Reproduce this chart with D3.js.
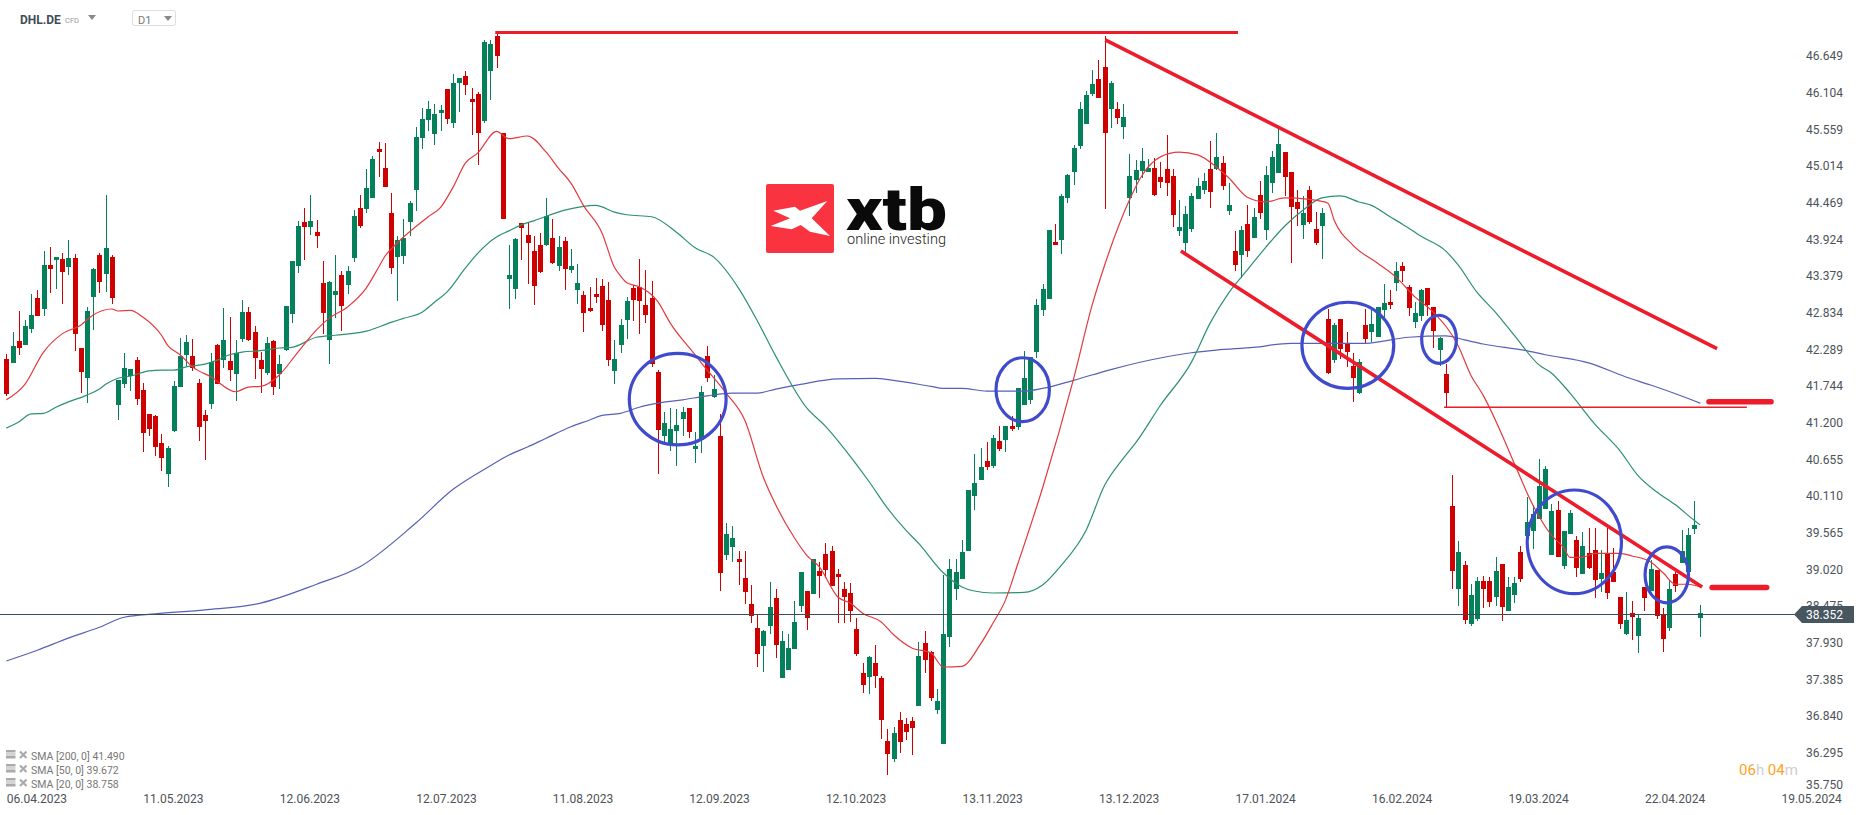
<!DOCTYPE html>
<html><head><meta charset="utf-8">
<script src="https://cdn.jsdelivr.net/npm/d3@7/dist/d3.min.js"></script>
<style>html,body{margin:0;padding:0;background:#fff}svg{display:block;font-family:Roboto,sans-serif}</style>
</head><body><svg id="c" width="1866" height="815"></svg>
<script>
const directions=("RGRGGRGRGR"+"GRRGGRGRGG"+"GRRRRRGGGG"+"RRRGRGRGGR"+"RRGRGGGGRG"+"RRGGRGGRGG"+"RRRGGGGGGG"+"GRGGRRRGGR"+"RGGRRRRGRG"+"RGGRRRRRGG"+"GRRRRRGGGG"+"RGGRGRGGRR"+"RRGGRGGGGR"+"GRRRRRRRRG"+"RRRGRRRGRR"+"GGGGGGGGRG"+"RGRGGGGGGR"+"GGGGGGRRGR"+"GGGGGRRRRG"+"GGGGRGRGRG"+"RGRGGGRRRG"+"RRGRGRRRGR"+"GGGRGRRGGR"+"RGRRGRGGRR"+"GRGGRGGGGG"+"RGGRGRRGRR"+"RGRGRGRRGR"+"GGGG").split("");
const bodyTop=[42.14,42.34,42.41,42.64,42.80,43.05,43.54,43.54,43.66,43.63,43.65,43.65,42.31,42.86,43.48,43.69,43.80,43.66,41.83,42.01,
42.00,42.13,41.68,41.33,41.30,40.90,40.82,41.74,42.19,42.40,42.19,41.79,41.31,42.10,42.35,42.43,42.12,42.24,42.85,42.85,
42.55,42.13,42.38,42.41,42.07,42.93,43.60,44.12,44.18,44.20,44.03,43.28,43.29,43.16,43.39,43.45,44.27,44.39,44.69,45.12,
45.27,44.98,44.32,43.91,43.94,44.46,45.45,45.71,45.86,45.79,45.85,46.16,46.25,46.32,46.35,46.01,46.08,46.86,46.83,46.95,
45.50,43.39,43.93,44.17,43.99,43.75,43.84,44.27,43.94,43.81,43.90,43.53,43.28,43.10,42.90,43.11,43.23,43.02,42.14,42.65,
43.01,43.20,43.22,42.95,43.05,41.95,41.20,41.11,41.17,41.36,41.42,40.85,41.66,42.19,41.70,41.00,39.55,39.49,39.17,38.89,
38.51,38.15,38.10,38.46,38.60,37.96,37.85,38.24,38.98,38.70,39.17,39.00,39.25,39.29,38.95,38.73,38.67,38.13,37.48,37.72,
37.63,37.41,36.47,36.59,36.78,36.72,36.77,37.73,37.93,37.79,37.06,38.06,39.03,38.98,39.28,40.20,40.30,40.54,40.63,40.97,
40.93,41.15,41.15,41.72,41.86,42.18,42.95,43.19,44.06,43.89,44.57,44.88,45.28,45.86,46.07,46.23,46.31,46.49,46.25,45.86,
45.74,44.87,44.95,45.09,44.98,44.98,44.85,44.97,44.87,44.11,44.30,44.57,44.72,44.79,44.97,45.15,45.06,44.43,43.75,44.06,
44.15,44.26,44.58,44.88,45.15,45.34,45.22,44.92,44.48,44.32,44.66,44.08,44.32,42.74,42.65,42.74,42.37,42.04,42.10,42.65,
42.67,42.92,42.98,42.99,43.45,43.53,43.22,42.83,43.17,43.20,42.92,42.46,41.92,39.96,39.28,39.09,38.64,38.85,38.85,38.85,
39.00,39.10,38.76,38.82,39.28,39.72,39.84,40.26,40.51,39.89,39.90,39.59,39.86,39.46,39.37,39.26,39.31,38.97,39.26,38.98,
38.61,38.27,38.37,38.30,38.76,39.03,39.01,38.34,38.73,38.95,39.29,39.53,39.68,38.37];
const bodyBottom=[41.63,42.09,42.31,42.35,42.59,42.78,42.89,43.48,43.62,43.44,43.51,42.52,41.95,41.86,43.07,43.29,43.41,43.05,41.46,41.77,
41.89,41.55,41.05,41.11,40.84,40.67,40.44,41.08,41.73,42.21,42.01,41.14,41.22,41.48,41.77,42.13,41.98,41.92,42.44,42.43,
42.16,42.00,41.94,41.73,41.92,42.28,42.81,43.53,44.11,44.11,43.97,42.83,42.43,43.10,42.93,43.25,43.65,44.12,44.37,44.54,
45.22,44.70,43.50,43.66,43.68,44.18,44.66,45.43,45.70,45.49,45.80,45.71,45.65,46.25,46.22,45.97,45.50,45.68,46.43,46.65,
44.23,43.33,43.19,44.09,43.87,43.23,43.44,43.84,43.57,43.53,43.48,43.47,43.17,42.83,42.86,43.07,42.65,42.13,41.97,42.35,
42.72,43.02,43.01,42.80,42.07,41.09,41.00,40.90,41.08,41.26,41.06,40.81,40.94,41.86,41.58,38.97,39.23,39.35,39.13,38.68,
38.33,37.76,37.88,38.18,37.90,37.41,37.52,37.84,38.48,38.30,38.65,38.92,39.01,38.77,38.91,38.61,38.40,37.76,37.30,37.42,
37.44,36.78,36.28,36.20,36.46,36.60,36.66,36.99,37.67,37.11,36.93,36.42,38.02,38.73,38.88,39.29,40.11,40.35,40.54,40.56,
40.81,40.94,41.11,41.14,41.46,41.54,42.25,42.87,43.04,43.84,43.91,44.54,44.92,45.31,45.64,46.08,46.02,45.50,45.86,45.73,
45.59,44.54,44.81,44.94,44.92,44.58,44.78,44.76,44.29,44.05,43.87,44.08,44.52,44.66,44.63,44.97,44.72,44.35,43.54,43.69,
43.75,43.94,44.32,44.06,44.76,44.91,44.85,44.40,44.37,44.14,44.18,43.87,44.12,41.94,42.13,42.30,42.25,41.86,41.64,42.44,
42.55,42.47,42.87,42.95,43.28,43.45,42.90,42.70,42.78,42.95,42.56,42.28,41.64,39.00,38.73,38.27,38.21,38.28,38.73,38.54,
38.61,38.46,38.40,38.64,38.88,39.52,39.59,39.77,39.92,39.23,39.20,39.07,39.55,39.04,38.95,39.04,38.86,38.88,38.67,38.83,
38.21,38.06,38.31,38.03,38.60,38.70,38.33,37.99,38.15,38.77,39.11,38.98,39.62,38.30];
const highs=[42.22,42.55,42.86,42.72,43.11,43.17,43.75,43.81,43.66,43.72,43.91,43.71,42.31,42.92,43.50,43.72,44.58,43.69,41.83,42.24,
42.00,42.18,41.79,41.33,41.31,41.03,40.85,41.82,42.46,42.50,42.44,41.85,41.39,42.24,42.37,42.90,42.77,42.43,43.02,42.92,
42.64,42.25,42.47,42.43,42.21,42.93,43.60,44.20,44.39,44.58,44.21,43.60,43.31,43.69,43.45,43.53,44.36,44.58,44.97,45.16,
45.37,45.36,44.61,43.97,44.23,44.49,45.59,45.88,45.98,45.94,45.92,46.16,46.38,46.32,46.43,46.17,46.11,46.89,46.89,47.00,
45.50,43.84,43.94,44.17,44.17,43.97,44.02,44.54,44.23,43.97,43.96,43.78,43.56,43.16,43.22,43.35,43.33,43.29,42.43,42.74,
43.07,43.25,43.63,43.47,43.30,41.98,41.36,41.42,41.40,41.43,41.42,41.06,41.74,42.34,41.91,41.33,39.71,39.66,39.29,39.29,
38.79,38.34,38.12,38.83,38.73,38.11,38.06,38.55,38.98,38.70,39.17,39.13,39.41,39.37,39.03,38.83,38.82,38.30,37.63,37.73,
37.90,37.44,36.65,36.68,36.90,36.81,36.83,37.94,38.11,37.81,37.24,38.94,39.17,39.17,39.46,40.20,40.73,40.82,40.91,41.02,
41.15,41.15,41.30,41.72,42.27,42.18,43.04,43.26,44.06,44.15,44.60,44.90,45.33,45.97,46.13,46.44,46.59,46.95,46.28,45.97,
45.94,45.19,45.10,45.28,45.12,45.13,45.07,45.47,44.97,44.51,44.42,44.61,44.84,44.91,45.39,45.50,45.16,44.76,44.05,44.12,
44.43,44.39,44.79,45.01,45.24,45.58,45.22,44.92,44.66,44.57,44.72,44.33,44.39,42.89,42.68,42.74,42.55,42.24,42.15,42.89,
42.87,42.92,43.26,43.17,43.59,43.59,43.25,42.99,43.19,43.20,42.92,42.47,42.07,40.42,39.44,39.15,38.80,38.91,38.92,38.91,
39.20,39.10,38.91,38.91,39.37,40.09,39.98,40.66,40.56,39.99,40.03,39.59,39.90,39.52,39.58,39.63,39.63,39.31,39.63,39.34,
38.61,38.68,38.55,38.34,38.76,39.16,39.01,38.45,38.86,38.98,39.60,39.63,40.03,38.49];
const lows=[41.60,42.09,42.21,42.35,42.53,42.78,42.78,43.13,43.19,42.96,43.39,42.27,41.64,41.49,42.58,43.13,43.14,42.96,41.24,41.72,
41.67,41.46,40.76,41.00,40.70,40.48,40.24,41.06,41.73,42.04,41.97,40.93,40.64,41.40,41.77,42.01,41.82,41.52,42.40,42.41,
41.85,41.64,41.91,41.61,41.70,42.27,42.68,43.42,43.62,43.99,43.80,42.52,42.07,42.76,42.56,43.11,43.59,44.09,44.32,44.54,
44.85,44.70,43.41,43.01,43.56,43.97,44.35,45.27,45.53,45.33,45.53,45.64,45.58,45.82,46.07,45.48,45.03,45.65,46.00,46.47,
44.23,42.89,43.04,43.62,43.26,42.95,43.42,43.83,43.56,43.45,43.17,43.42,42.96,42.55,42.85,42.98,42.56,42.04,41.77,42.24,
42.44,42.71,42.52,42.68,42.03,40.44,40.91,40.78,40.56,41.00,40.97,40.60,40.75,41.80,41.57,38.70,39.16,39.13,38.79,38.51,
38.22,37.57,37.50,38.06,37.70,37.41,37.52,37.84,38.39,38.12,38.65,38.60,38.89,38.77,38.22,38.22,38.24,37.73,37.18,37.17,
37.26,36.50,35.97,36.16,36.29,36.48,36.26,36.99,37.48,37.06,36.87,36.42,37.87,38.56,38.88,39.29,39.90,40.35,40.50,40.53,
40.78,40.76,41.08,41.09,41.46,41.48,42.16,42.78,43.04,43.84,43.71,44.46,44.73,45.27,45.64,46.05,46.02,44.37,45.58,45.64,
45.42,44.27,44.61,44.84,44.92,44.57,44.69,44.57,44.11,43.97,43.74,44.03,44.52,44.60,44.39,44.95,44.66,44.29,43.45,43.35,
43.66,43.94,44.23,43.91,44.61,44.91,44.57,43.57,44.12,43.93,44.15,43.84,43.63,41.92,42.09,42.15,42.03,41.51,41.63,42.38,
42.40,42.47,42.77,42.89,43.16,43.29,42.78,42.61,42.71,42.78,42.31,42.04,41.43,38.73,38.48,38.21,38.18,38.25,38.45,38.46,
38.48,38.25,38.40,38.52,38.83,39.52,39.32,39.77,39.92,39.23,39.20,39.03,39.55,38.91,38.95,39.03,38.60,38.68,38.58,38.83,
38.13,38.04,37.97,37.78,38.40,38.70,38.28,37.79,38.10,38.68,39.11,38.98,39.55,38.02];

const sma20Bars=[0,3,6,9,12,14,17,18,20,22,25,26,28,30,33,37,39,41,44,47,50,52,55,58,60,61,63,68,70,72,74,76,79,81,84,87,89,91,93,96,98,99,100,102,105,107,111,112,116,119,122,124,127,129,131,134,136,138,141,143,146,149,151,154,157,159,161,163,167,172,175,177,181,183,186,189,192,195,197,200,203,206,210,212,213,214,217,221,224,227,230,234,236,238,241,243,246,247,249,251,252,254,256,260,262,265,267,269,271,273];
const sma20Values=[41.54,41.77,42.25,42.52,42.65,42.80,42.89,42.86,42.87,42.77,42.50,42.35,42.21,42.03,41.88,41.66,41.73,41.74,41.91,42.25,42.58,42.75,42.92,43.20,43.51,43.67,43.87,44.26,44.40,44.70,45.06,45.21,45.53,45.42,45.46,45.22,44.98,44.76,44.43,44.02,43.51,43.38,43.28,43.22,43.00,42.68,42.21,42.09,41.64,41.24,40.39,39.98,39.49,39.23,39.06,38.61,38.52,38.37,38.24,38.05,37.85,37.78,37.57,37.58,37.91,38.22,38.56,39.10,40.23,41.85,42.95,43.54,44.51,44.87,45.15,45.22,45.18,45.00,44.84,44.55,44.48,44.54,44.52,44.49,44.46,44.21,43.84,43.57,43.36,43.07,42.84,42.34,41.91,41.61,41.03,40.60,39.98,39.81,39.53,39.34,39.20,39.20,39.26,39.26,39.22,39.13,38.97,38.80,38.80,38.76];
const sma50Bars=[0,2,4,6,8,10,13,15,16,18,20,23,25,27,29,32,34,36,38,41,44,46,50,53,58,62,64,67,69,71,74,76,79,81,83,85,90,95,98,100,104,108,111,114,118,121,124,129,132,135,139,142,145,147,151,154,156,159,164,167,170,174,177,180,182,186,191,194,197,200,203,206,209,212,215,218,220,223,225,228,232,234,237,240,243,247,249,252,256,260,263,266,269,272,273];
const sma50Values=[41.12,41.21,41.33,41.34,41.43,41.51,41.61,41.70,41.77,41.86,41.89,41.97,41.98,41.98,42.03,42.07,42.13,42.21,42.25,42.27,42.31,42.32,42.47,42.50,42.56,42.69,42.75,42.84,42.99,43.14,43.50,43.72,43.96,44.05,44.14,44.20,44.36,44.43,44.33,44.29,44.26,44.03,43.80,43.66,43.20,42.72,42.19,41.42,41.15,40.82,40.33,39.93,39.60,39.41,38.97,38.76,38.70,38.67,38.68,38.79,39.08,39.60,40.27,40.67,40.90,41.46,42.10,42.68,43.13,43.47,43.81,44.12,44.36,44.54,44.57,44.48,44.43,44.26,44.15,43.97,43.75,43.54,43.14,42.84,42.50,42.06,41.94,41.64,41.18,40.79,40.41,40.17,39.98,39.75,39.68];
const sma200Bars=[0,5,10,15,19,24,32,41,50,57,66,72,78,81,84,87,91,94,96,99,102,105,109,113,117,121,124,128,134,140,143,149,151,154,158,164,167,172,178,187,191,195,201,207,216,219,226,232,235,238,245,248,255,261,265,269,273];
const sma200Values=[37.66,37.82,38.00,38.16,38.31,38.36,38.42,38.52,38.80,39.06,39.71,40.21,40.56,40.72,40.84,40.97,41.14,41.24,41.31,41.34,41.43,41.49,41.54,41.60,41.64,41.64,41.70,41.77,41.85,41.86,41.83,41.74,41.71,41.71,41.67,41.67,41.71,41.83,41.99,42.18,42.24,42.28,42.32,42.38,42.38,42.38,42.47,42.49,42.43,42.37,42.27,42.21,42.09,41.88,41.76,41.63,41.49];

const priceTicks=[46.649,46.104,45.559,45.014,44.469,43.924,43.379,42.834,42.289,41.744,41.200,40.655,40.110,39.565,39.020,38.475,37.930,37.385,36.840,36.295,35.750];
const dateTickBars=[0,22,44,66,88,110,132,154,176,198,220,242,264,286];
const dateTickLabels=["06.04.2023","11.05.2023","12.06.2023","12.07.2023","11.08.2023","12.09.2023","12.10.2023","13.11.2023","13.12.2023","17.01.2024","16.02.2024","19.03.2024","22.04.2024","19.05.2024"];
const currentPrice=38.352;
const legendLabels=["SMA [200, 0] 41.490","SMA [50, 0] 39.672","SMA [20, 0] 38.758"];

/* drawn annotations, in bar number / price units */
const trendLines=[[78.8,47.00,198.5,47.00,3],[177.1,46.89,275.7,42.30,3.6],[189.3,43.75,273.3,38.76,3.6],[231.7,41.43,280.5,41.43,1.3],[274.4,41.51,284.4,41.51,5.5],[274.9,38.75,283.7,38.75,5.5]];
const circleBars=[108.2,163.8,216.2,230.9,252.7,267.6];
const circlePrices=[41.55,41.69,42.35,42.44,39.43,38.94];
const circleBarRadius=[7.8,4.3,7.4,2.8,7.6,3.5];
const circlePriceRadius=[0.68,0.475,0.64,0.357,0.77,0.416];

const RED="#cf0000",GREEN="#04815a",ANNO="#ee1c2b",BLUE="#3f4bcc";
const svg=d3.select("#c");
const x=d3.scaleLinear().domain([0,273]).range([6.3,1700.3]);
const y=d3.scaleLinear().domain([35.75,46.649]).range([789.5,56]);
const ry=p=>Math.round(y(p));

/* logo */
const logo=svg.append("g");
logo.append("rect").attr("x",766).attr("y",184).attr("width",68).attr("height",69).attr("rx",2).attr("fill","#f93340");
logo.append("path").attr("fill","#fff").attr("d","M773.3,210.7L795,206.7L800,210.7L827.3,201L811.7,218.3L830,236L810,231.7L800.7,225L791.7,229.3L770.7,226L790,218.3Z");
logo.append("text").attr("x",846).attr("y",230).attr("font-size",60).attr("font-weight",900).attr("fill","#0a0a0a").attr("textLength",101).attr("lengthAdjust","spacingAndGlyphs").text("xtb");
logo.append("text").attr("x",847).attr("y",244).attr("font-size",15.5).attr("font-weight",300).attr("fill","#222").attr("textLength",99).attr("lengthAdjust","spacingAndGlyphs").text("online investing");

/* candles */
const bars=d3.range(directions.length);
const candles=svg.append("g").attr("shape-rendering","crispEdges");
candles.selectAll("rect.w").data(bars).join("rect").attr("class","w")
 .attr("x",i=>Math.round(x(i))).attr("width",1)
 .attr("y",i=>ry(highs[i])).attr("height",i=>Math.max(1,ry(lows[i])-ry(highs[i])))
 .attr("fill",i=>directions[i]==="G"?GREEN:RED);
candles.selectAll("rect.b").data(bars).join("rect").attr("class","b")
 .attr("x",i=>Math.round(x(i))-2).attr("width",5)
 .attr("y",i=>ry(bodyTop[i])).attr("height",i=>Math.max(1,ry(bodyBottom[i])-ry(bodyTop[i])))
 .attr("fill",i=>directions[i]==="G"?GREEN:RED);

/* moving averages */
const lineGen=d3.line().x(d=>x(d[0])).y(d=>y(d[1])).curve(d3.curveMonotoneX);
[[sma200Bars,sma200Values,"#5661b5"],[sma50Bars,sma50Values,"#2b9170"],[sma20Bars,sma20Values,"#e23a3e"]].forEach(([b,v,c])=>{
 svg.append("path").attr("fill","none").attr("stroke",c).attr("stroke-width",1.2).attr("d",lineGen(b.map((k,j)=>[k,v[j]])));
});

/* current price line */
svg.append("line").attr("x1",0).attr("x2",1796).attr("y1",Math.round(y(currentPrice))+.5).attr("y2",Math.round(y(currentPrice))+.5).attr("stroke","#3c4c57").attr("stroke-width",1);

/* annotations */
svg.append("g").selectAll("line").data(trendLines).join("line")
 .attr("x1",d=>x(d[0])).attr("y1",d=>y(d[1])).attr("x2",d=>x(d[2])).attr("y2",d=>y(d[3]))
 .attr("stroke",ANNO).attr("stroke-width",d=>d[4]).attr("stroke-linecap",d=>d[4]>5?"round":"butt");
svg.append("g").selectAll("ellipse").data(circleBars).join("ellipse")
 .attr("cx",d=>x(d)).attr("cy",(d,i)=>y(circlePrices[i]))
 .attr("rx",(d,i)=>x(circleBarRadius[i])-x(0)).attr("ry",(d,i)=>y(0)-y(circlePriceRadius[i]))
 .attr("fill","none").attr("stroke",BLUE).attr("stroke-width",3.2);

/* axes */
const yAxis=d3.axisRight(y).tickValues(priceTicks).tickFormat(d3.format(".3f")).tickSize(0).tickPadding(0);
const gy=svg.append("g").attr("transform","translate(1806,0)").call(yAxis);
gy.select(".domain").remove();
gy.selectAll("text").attr("font-family","Roboto").attr("font-size",12).attr("fill","#4d5358").attr("dy",(d)=>d===35.75?"-0.1em":"0.32em");

const xAxis=d3.axisBottom(x).tickValues(dateTickBars).tickFormat((d,i)=>dateTickLabels[i]).tickSize(0).tickPadding(4);
const gx=svg.append("g").attr("transform","translate(0,790)").call(xAxis);
gx.select(".domain").remove();
gx.selectAll("text").attr("text-anchor","start").attr("font-family","Roboto").attr("font-size",12).attr("fill","#4d5358");

/* price tag */
const py=Math.round(y(currentPrice));
svg.append("path").attr("fill","#47565f").attr("d",`M1794,${py+.5}L1802,${py-8}L1854,${py-8}L1854,${py+9}L1802,${py+9}Z`);
svg.append("text").attr("x",1806).attr("y",py+5).attr("font-size",12).attr("fill","#fff").text(d3.format(".3f")(currentPrice));

/* timer */
const t=svg.append("text").attr("x",1739).attr("y",775).attr("font-size",15).attr("fill","#cfcfcf");
t.append("tspan").attr("fill","#ffa21f").text("06"); t.append("tspan").text("h ");
t.append("tspan").attr("fill","#ffa21f").text("04"); t.append("tspan").text("m");

/* legend */
const leg=svg.append("g").selectAll("g").data(legendLabels).join("g").attr("transform",(d,i)=>`translate(0,${756+i*14})`);
leg.append("text").attr("x",31).attr("y",3.5).attr("font-size",10.5).attr("fill","#777").text(d=>d);
leg.append("path").attr("d","M6,-6H15.5V-3.5H6ZM6,-2.5H15.5V-1.5H6ZM6,-0.5H15.5V2.5H6Z").attr("fill","#aaa");
leg.append("path").attr("d","M20,-4.5L26.5,2M26.5,-4.5L20,2").attr("stroke","#aaa").attr("stroke-width",2.2);

/* header */
svg.append("text").attr("x",20).attr("y",23.5).attr("font-size",12).attr("font-weight",700).attr("fill","#3f4d58").text("DHL.DE");
svg.append("text").attr("x",65).attr("y",22.5).attr("font-size",7.5).attr("fill","#999").text("CFD");
svg.append("path").attr("d","M88,15H96L92,20Z").attr("fill","#888");
svg.append("rect").attr("x",132.5).attr("y",10.5).attr("width",43).attr("height",15).attr("rx",2).attr("fill","#fff").attr("stroke","#ddd");
svg.append("text").attr("x",138).attr("y",24).attr("font-size",11).attr("fill","#777").text("D1");
svg.append("path").attr("d","M164,16H172L168,21Z").attr("fill","#888");
</script></body></html>
